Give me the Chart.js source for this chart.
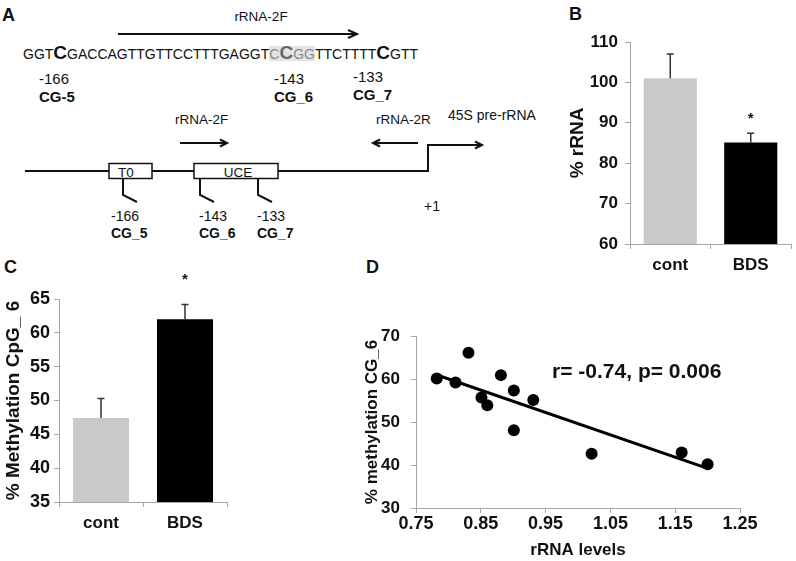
<!DOCTYPE html>
<html>
<head>
<meta charset="utf-8">
<script src="https://cdn.jsdelivr.net/npm/chart.js@4.4.1/dist/chart.umd.min.js"></script>
<style>
  html, body { margin: 0; padding: 0; background: #fff; }
  #wrap { position: relative; width: 796px; height: 561px; background: #fff; overflow: hidden; }
  #wrap svg, #wrap canvas { position: absolute; }
  svg text { font-family: "Liberation Sans", Arial, sans-serif; fill: #111; }
</style>
</head>
<body>
<div id="wrap">
  <svg width="796" height="561" style="left:0;top:0" xmlns="http://www.w3.org/2000/svg">
    <!-- panel letters -->
    <text x="2" y="21" font-size="18" font-weight="bold">A</text>
    <text x="569" y="20" font-size="18" font-weight="bold">B</text>
    <text x="4" y="273" font-size="18" font-weight="bold">C</text>
    <text x="366" y="273" font-size="18" font-weight="bold">D</text>

    <!-- sequence -->
    <text x="261" y="21" font-size="13.5" text-anchor="middle">rRNA-2F</text>
    <g stroke="#111" stroke-width="2" fill="none">
      <line x1="118" y1="34" x2="356" y2="34"/>
      <polyline points="348,30 357,34 348,38"/>
    </g>
    <rect x="269" y="46" width="46" height="15" fill="#e4e4e4"/>
    <text x="23" y="59" font-size="14"><tspan>GGT</tspan><tspan font-size="19" font-weight="bold">C</tspan><tspan>GACCAGTTGTTCCTTTGAGGT</tspan><tspan fill="#8a8a8a">C</tspan><tspan font-size="19" font-weight="bold" fill="#666">C</tspan><tspan fill="#8a8a8a">GG</tspan><tspan>TTCTTTT</tspan><tspan font-size="19" font-weight="bold">C</tspan><tspan>GTT</tspan></text>
    <text x="39" y="84" font-size="15">-166</text>
    <text x="39" y="102" font-size="15" font-weight="bold">CG-5</text>
    <text x="274" y="84" font-size="15">-143</text>
    <text x="274" y="102" font-size="15" font-weight="bold">CG_6</text>
    <text x="353" y="82" font-size="15">-133</text>
    <text x="353" y="100" font-size="15" font-weight="bold">CG_7</text>

    <!-- promoter diagram -->
    <text x="175" y="124" font-size="13.5">rRNA-2F</text>
    <text x="376" y="124" font-size="13.5">rRNA-2R</text>
    <text x="448" y="120" font-size="14">45S pre-rRNA</text>
    <g stroke="#111" stroke-width="2" fill="none">
      <line x1="180" y1="143" x2="226" y2="143"/>
      <polyline points="220,139.5 227,143 220,146.5"/>
      <line x1="418" y1="143" x2="374" y2="143"/>
      <polyline points="380,139.5 373,143 380,146.5"/>
      <polyline points="25,171 428,171 428,145 481,145"/>
      <polyline points="475,141.5 482,145 475,148.5"/>
      <polyline points="123,178 123,195 137,202"/>
      <polyline points="200,178 200,195 214,202"/>
      <polyline points="258,178 258,195 272,202"/>
    </g>
    <rect x="109" y="163.5" width="43" height="15" fill="#fff" stroke="#111" stroke-width="1.5"/>
    <rect x="194" y="163.5" width="84" height="15" fill="#fff" stroke="#111" stroke-width="1.5"/>
    <text x="126" y="177" font-size="13.5" text-anchor="middle">T0</text>
    <text x="238" y="177" font-size="13.5" text-anchor="middle">UCE</text>
    <text x="111" y="221" font-size="14">-166</text>
    <text x="111" y="238" font-size="14" font-weight="bold">CG_5</text>
    <text x="199" y="221" font-size="14">-143</text>
    <text x="199" y="238" font-size="14" font-weight="bold">CG_6</text>
    <text x="257" y="221" font-size="14">-133</text>
    <text x="257" y="238" font-size="14" font-weight="bold">CG_7</text>
    <text x="424" y="211" font-size="14">+1</text>
  </svg>
  <canvas id="chartB" width="266" height="300" style="left:530px;top:0px"></canvas>
  <canvas id="chartC" width="300" height="311" style="left:0px;top:250px"></canvas>
  <canvas id="chartD" width="496" height="261" style="left:300px;top:300px"></canvas>
</div>
<script>
// ---------------- data ----------------
const barCategories = ['cont', 'BDS'];

const rrnaValues = [101.0, 85.1];
const rrnaErrors = [6.0, 2.3];
const rrnaStars = [null, 91.6];
const rrnaTicks = [60, 110, 10];   // min, max, step

const methValues = [47.4, 62.0];
const methErrors = [2.9, 2.2];
const methStars = [null, 68.2];
const methTicks = [35, 65, 5];

const rrnaLevels = [0.782, 0.811, 0.831, 0.851, 0.860, 0.881, 0.901, 0.901, 0.931, 1.021, 1.160, 1.200];
const methylCG6  = [60.1, 59.2, 66.1, 55.7, 53.9, 60.9, 57.3, 48.1, 55.1, 42.6, 42.9, 40.2];
const trendX = [0.779, 1.200];
const trendY = [61.1, 39.2];
const scatterXTicks = [0.75, 1.25, 0.1];
const scatterYTicks = [30, 70, 10];
const corrText = 'r= -0.74, p= 0.006';
const corrPos = [0.960, 61.6];

// ---------------- setup ----------------
const FONT = '"Liberation Sans", Arial, sans-serif';
Chart.defaults.font.family = FONT;
Chart.defaults.color = '#111';
Chart.defaults.animation = false;

const AXIS_COLOR = '#a6a6a6';

const errorBars = {
  id: 'errorBars',
  afterDatasetsDraw(chart, args, opts) {
    const meta = chart.getDatasetMeta(0);
    const ys = chart.scales.y;
    const ctx = chart.ctx;
    ctx.save();
    ctx.strokeStyle = '#333';
    ctx.lineWidth = 1.5;
    meta.data.forEach((bar, i) => {
      const v = opts.values[i], e = opts.errors[i];
      const y0 = ys.getPixelForValue(v), y1 = ys.getPixelForValue(v + e);
      ctx.beginPath();
      ctx.moveTo(bar.x, y0); ctx.lineTo(bar.x, y1);
      ctx.moveTo(bar.x - 3.5, y1); ctx.lineTo(bar.x + 3.5, y1);
      ctx.stroke();
      if (opts.stars[i] != null) {
        ctx.fillStyle = '#111';
        ctx.font = 'bold 15px ' + FONT;
        ctx.textAlign = 'center';
        ctx.textBaseline = 'middle';
        ctx.fillText('*', bar.x, ys.getPixelForValue(opts.stars[i]) + 3);
      }
    });
    ctx.restore();
  }
};

function barChart(id, values, errors, stars, ticks, cfg) {
  return new Chart(document.getElementById(id), {
    type: 'bar',
    data: {
      labels: barCategories,
      datasets: [{
        data: values,
        backgroundColor: ['#c9c9c9', '#000000'],
        borderWidth: 0,
        categoryPercentage: 1.0,
        barPercentage: cfg.barPct
      }]
    },
    options: {
      responsive: false,
      devicePixelRatio: 1,
      layout: { padding: cfg.padding },
      plugins: {
        legend: { display: false },
        tooltip: { enabled: false },
        errorBars: { values: values, errors: errors, stars: stars }
      },
      scales: {
        x: {
          grid: { display: true, drawOnChartArea: false, drawTicks: true, tickLength: 5, color: AXIS_COLOR, lineWidth: 1 },
          border: { display: true, color: AXIS_COLOR, width: 1 },
          ticks: { font: { size: cfg.xFont, weight: 'bold', lineHeight: 1.2 }, padding: cfg.xPad, color: '#111' },
          afterFit: s => { s.height = cfg.xHeight; }
        },
        y: {
          min: ticks[0], max: ticks[1],
          grid: { display: true, drawOnChartArea: false, drawTicks: true, tickLength: 5, color: AXIS_COLOR, lineWidth: 1 },
          border: { display: true, color: AXIS_COLOR, width: 1 },
          ticks: { stepSize: ticks[2], font: { size: cfg.yFont, weight: 'bold', lineHeight: 1.2 }, padding: cfg.yPad, color: '#111' },
          title: { display: true, text: cfg.yTitle, font: { size: cfg.titleFont, weight: 'bold', lineHeight: 1.2 }, padding: { top: cfg.titlePad, bottom: 0 }, color: '#111' },
          afterFit: s => { s.width = cfg.yWidth; }
        }
      }
    },
    plugins: [errorBars]
  });
}

barChart('chartB', rrnaValues, rrnaErrors, rrnaStars, rrnaTicks, {
  barPct: 0.66, padding: { top: 42, right: 5, left: 0, bottom: 0 },
  xFont: 17, xPad: 6, xHeight: 56, yFont: 17, yPad: 7, yWidth: 100,
  yTitle: '% rRNA', titleFont: 19, titlePad: 36
});

barChart('chartC', methValues, methErrors, methStars, methTicks, {
  barPct: 0.667, padding: { top: 49, right: 73, left: 0, bottom: 0 },
  xFont: 17, xPad: 6, xHeight: 59, yFont: 18, yPad: 4, yWidth: 59,
  yTitle: '% Methylation CpG_ 6', titleFont: 19, titlePad: 2
});

const corrLabel = {
  id: 'corrLabel',
  afterDraw(chart) {
    const ctx = chart.ctx;
    ctx.save();
    ctx.fillStyle = '#111';
    ctx.font = 'bold 21px ' + FONT;
    ctx.textAlign = 'left';
    ctx.textBaseline = 'middle';
    ctx.fillText(corrText, chart.scales.x.getPixelForValue(corrPos[0]), chart.scales.y.getPixelForValue(corrPos[1]));
    ctx.restore();
  }
};

new Chart(document.getElementById('chartD'), {
  type: 'scatter',
  data: {
    datasets: [
      {
        data: rrnaLevels.map((x, i) => ({ x: x, y: methylCG6[i] })),
        backgroundColor: '#000', borderWidth: 0, pointRadius: 6, order: 2
      },
      {
        type: 'line',
        data: trendX.map((x, i) => ({ x: x, y: trendY[i] })),
        borderColor: '#000', borderWidth: 3, pointRadius: 0, fill: false, order: 1
      }
    ]
  },
  options: {
    responsive: false,
    devicePixelRatio: 1,
    layout: { padding: { top: 36, right: 56, left: 0, bottom: 0 } },
    plugins: { legend: { display: false }, tooltip: { enabled: false } },
    scales: {
      x: {
        type: 'linear',
        min: scatterXTicks[0], max: scatterXTicks[1],
        grid: { display: true, drawOnChartArea: false, drawTicks: true, tickLength: 5, color: AXIS_COLOR },
        border: { display: true, color: AXIS_COLOR },
        ticks: { stepSize: scatterXTicks[2], font: { size: 18, weight: 'bold', lineHeight: 1.2 }, padding: 0, color: '#111',
                 callback: v => v.toFixed(2) },
        title: { display: true, text: 'rRNA levels', font: { size: 17, weight: 'bold', lineHeight: 1.2 }, padding: { top: 0, bottom: 0 }, color: '#111' },
        afterFit: s => { s.height = 53; }
      },
      y: {
        min: scatterYTicks[0], max: scatterYTicks[1],
        grid: { display: true, drawOnChartArea: false, drawTicks: true, tickLength: 5, color: AXIS_COLOR },
        border: { display: true, color: AXIS_COLOR },
        ticks: { stepSize: scatterYTicks[2], font: { size: 17, weight: 'bold', lineHeight: 1.2 }, padding: 11, color: '#111' },
        title: { display: true, text: '% methylation CG_6', font: { size: 17, weight: 'bold', lineHeight: 1.2 }, padding: { top: 62, bottom: 0 }, color: '#111' },
        afterFit: s => { s.width = 116; }
      }
    }
  },
  plugins: [corrLabel]
});
</script>
</body>
</html>
